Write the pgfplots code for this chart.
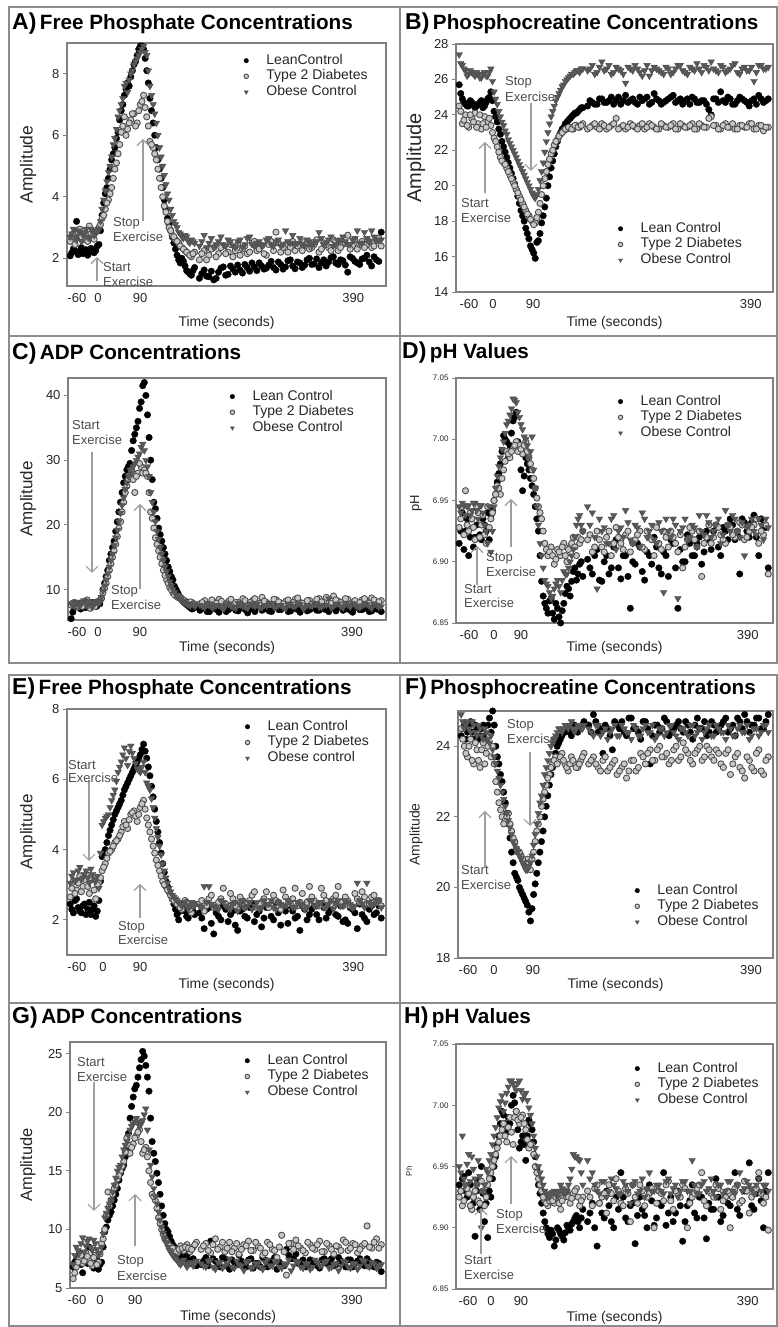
\documentclass[border=0pt]{standalone}
\usepackage{pgfplots}
\pgfplotsset{compat=1.18}
\usepackage{pgfplotstable}
\usetikzlibrary{arrows.meta}
\usepackage{fontspec}
\setmainfont{Liberation Sans}

\definecolor{axgray}{gray}{0.5}
\definecolor{framegray}{gray}{0.55}
\definecolor{txtcol}{gray}{0.15}
\definecolor{t2dfill}{gray}{0.78}
\definecolor{t2ddraw}{gray}{0.3}
\definecolor{obfill}{gray}{0.35}
\definecolor{arrgray}{gray}{0.62}
\definecolor{anncol}{gray}{0.3}

\pgfplotstableread{
u L T O
1 2.08 2.55 2.70
2 2.31 2.80 2.95
3 3.20 2.65 2.60
4 2.22 2.95 2.85
5 2.15 2.60 2.75
6 2.28 2.75 2.95
7 2.19 3.05 2.65
8 2.30 2.70 2.90
9 2.25 2.85 2.80
10 2.45 3.00 2.95
11 3.4 3.3 3.6
12 4.1 3.6 4.2
13 4.6 3.9 4.8
14 5.2 4.3 5.3
15 5.6 4.9 5.9
16 6.1 5.4 6.6
17 6.8 6.1 7.0
18 7.3 6.6 7.6
19 7.7 6.2 7.4
20 7.9 6.5 8.0
21 8.3 6.7 8.3
22 8.6 6.4 8.5
23 8.9 7.0 8.7
24 8.8 7.3 8.9
25 8.1 6.6 8.6
26 7.2 5.8 7.6
27 6.4 5.6 7.0
28 5.6 5.2 6.4
29 4.9 4.6 5.6
30 4.3 4.0 5.0
31 3.6 3.5 4.4
32 3.1 3.0 3.9
33 2.7 2.75 3.4
34 2.3 2.6 3.1
35 1.95 2.5 2.85
36 2.0 2.35 2.7
37 1.75 2.25 2.75
38 1.55 2.15 2.55
39 1.45 2.05 2.6
40 1.7 2.2 2.5
41.5 1.35 1.95 2.40
43 1.62 2.25 2.75
44.5 1.40 2.10 2.50
46 1.30 2.35 2.35
47.5 1.55 2.15 2.55
49 1.72 2.40 2.45
50.5 1.48 2.20 2.60
52 1.65 2.05 2.40
53.5 1.78 2.45 2.55
55 1.52 2.30 2.35
56.5 1.70 2.15 2.65
58 1.85 2.50 2.45
59.5 1.60 2.25 2.50
61 1.75 2.40 2.40
62.5 1.68 2.10 2.60
64 1.90 2.55 2.45
65.5 1.62 2.85 2.55
67 1.80 2.20 2.40
68.5 1.72 2.45 2.90
70 1.95 2.35 2.50
71.5 1.66 2.25 2.45
73 1.85 2.40 2.65
74.5 1.78 2.55 2.40
76 2.00 2.30 2.55
77.5 1.82 2.45 2.50
79 1.70 2.20 2.85
80.5 1.95 2.50 2.45
82 1.88 2.35 2.60
83.5 2.05 2.60 2.40
85 1.80 2.25 2.55
86.5 1.92 2.45 2.70
88 1.55 2.75 2.45
89.5 2.00 2.40 2.60
91 1.85 2.30 2.90
92.5 1.98 2.55 2.50
94 2.10 2.45 2.65
95.5 1.75 2.35 2.90
97 1.95 2.60 2.55
98.5 2.85 2.40 2.60
1.5 2.18 2.70 2.80
2.5 2.25 2.45 2.65
3.5 2.12 2.85 2.90
4.5 2.35 2.70 2.55
5.5 2.20 2.90 2.85
6.5 2.10 2.55 2.70
7.5 2.32 2.80 2.95
8.5 2.18 2.62 2.75
9.5 2.40 2.90 2.88
10.5 2.90 3.10 3.20
11.5 3.8 3.4 3.9
12.5 4.3 3.8 4.5
13.5 4.9 4.1 5.0
14.5 5.4 4.6 5.7
15.5 5.9 5.1 6.2
16.5 6.5 5.7 6.8
17.5 7.0 6.3 7.2
18.5 7.5 6.0 7.7
19.5 7.6 6.4 7.8
20.5 8.1 6.7 8.1
21.5 8.4 6.3 8.4
22.5 8.8 6.8 8.6
23.5 8.9 7.1 8.8
24.5 8.5 6.9 8.7
25.5 7.7 6.3 8.1
26.5 6.8 5.7 7.3
27.5 6.0 5.4 6.7
28.5 5.2 4.9 6.0
29.5 4.6 4.3 5.3
30.5 3.9 3.7 4.7
31.5 3.3 3.2 4.1
32.5 2.9 2.9 3.6
33.5 2.5 2.7 3.2
34.5 2.1 2.55 3.0
35.5 1.85 2.4 2.8
36.5 1.9 2.3 2.65
37.5 1.6 2.2 2.7
38.5 1.5 2.1 2.5
39.5 1.6 2.15 2.55
42.25 1.50 2.15 2.55
43.75 1.42 1.95 2.35
45.25 1.58 2.30 2.65
46.75 1.35 2.05 2.45
48.25 1.68 2.35 2.70
49.75 1.45 2.15 2.40
51.25 1.75 2.45 2.55
52.75 1.55 2.25 2.35
54.25 1.62 2.10 2.60
55.75 1.80 2.40 2.45
57.25 1.58 2.20 2.70
58.75 1.72 2.55 2.40
60.25 1.85 2.30 2.55
61.75 1.65 2.15 2.45
63.25 1.78 2.45 2.65
64.75 1.70 2.25 2.40
66.25 1.88 2.50 2.60
67.75 1.65 2.35 2.45
69.25 1.92 2.20 2.55
70.75 1.75 2.55 2.75
72.25 1.88 2.40 2.50
73.75 1.70 2.25 2.45
75.25 1.95 2.50 2.60
76.75 1.80 2.35 2.40
78.25 1.98 2.60 2.55
79.75 1.85 2.30 2.65
81.25 1.75 2.45 2.50
82.75 2.02 2.25 2.70
84.25 1.85 2.55 2.45
85.75 1.95 2.35 2.60
87.25 1.78 2.50 2.55
88.75 2.05 2.30 2.45
90.25 1.90 2.60 2.65
91.75 1.80 2.45 2.50
93.25 2.00 2.35 2.85
94.75 1.88 2.55 2.55
96.25 2.05 2.40 2.70
97.75 1.90 2.65 2.60
}\tA

\pgfplotstableread{
u L T O
1 25.7 24.5 27.4
2 24.9 23.5 26.8
3 24.6 24.0 26.5
4 24.5 23.3 26.3
5 24.7 23.8 26.4
6 24.4 24.1 26.2
7 24.6 23.5 26.3
8 24.8 23.2 26.1
9 24.5 23.9 26.4
10 24.9 23.6 26.2
11 25.3 23.4 26.6
12 24.2 22.7 25.3
13 23.6 22.2 24.6
14 22.9 21.6 23.9
15 22.2 21.3 23.4
16 21.6 21.0 22.9
17 21.0 20.6 22.4
18 20.4 20.2 22.0
19 19.8 19.8 21.6
20 19.0 19.4 21.2
21 18.3 19.0 20.8
22 17.6 18.6 20.4
23 17.0 18.3 20.0
24 16.4 18.0 19.6
25 15.9 17.9 19.3
26 16.9 18.5 19.8
27 17.9 19.5 20.8
28 18.8 20.4 21.9
29 20.0 21.2 23.0
30 21.0 21.8 23.9
31 21.8 22.3 24.5
32 22.5 22.6 25.0
33 23.0 22.9 25.4
34 23.3 23.1 25.7
35 23.6 23.2 26.0
36 23.8 23.3 26.2
37 24.0 23.2 26.3
38 24.1 23.4 26.5
39 24.3 23.3 26.4
40 24.4 23.5 26.6
41.5 24.5 23.2 26.5
43 24.7 23.4 26.8
44.5 24.6 23.3 26.4
46 24.9 23.5 27.0
47.5 24.7 23.2 26.6
49 25.0 23.4 26.3
50.5 24.8 23.8 26.7
52 24.6 23.3 26.5
53.5 25.1 23.2 25.8
55 24.8 23.5 26.6
56.5 24.7 23.3 26.8
58 25.0 23.4 26.4
59.5 24.9 23.2 26.5
61 24.6 23.5 26.2
62.5 25.2 23.3 26.7
64 24.8 23.2 26.5
65.5 24.7 23.4 26.3
67 24.9 23.3 26.6
68.5 25.1 23.5 26.4
70 24.8 23.2 26.8
71.5 24.6 23.4 26.5
73 24.9 23.3 26.3
74.5 25.0 23.5 26.6
76 24.7 23.2 26.9
77.5 24.8 23.4 26.4
79 24.6 23.3 26.7
80.5 24.0 23.9 27.0
82 24.9 23.4 26.5
83.5 25.3 23.2 26.8
85 24.7 23.5 26.4
86.5 24.9 23.3 26.6
88 24.6 23.2 26.9
89.5 25.0 23.4 26.3
91 24.8 23.3 26.7
92.5 24.5 23.5 26.5
94 24.9 23.2 25.9
95.5 25.1 23.4 26.8
97 24.7 23.1 26.6
98.5 24.9 23.3 26.7
1.5 25.2 24.2 26.9
2.5 24.7 23.7 26.6
3.5 24.5 23.4 26.2
4.5 24.8 24.0 26.5
5.5 24.6 23.6 26.3
6.5 24.5 23.3 26.4
7.5 24.7 24.0 26.1
8.5 24.4 23.5 26.3
9.5 24.7 23.3 26.2
10.5 25.0 23.8 26.4
11.5 24.8 23.0 25.9
12.5 23.9 22.5 24.9
13.5 23.2 21.9 24.2
14.5 22.5 21.4 23.6
15.5 21.9 21.2 23.1
16.5 21.3 20.8 22.6
17.5 20.7 20.4 22.2
18.5 20.1 20.0 21.8
19.5 19.4 19.6 21.4
20.5 18.6 19.2 21.0
21.5 18.0 18.8 20.6
22.5 17.3 18.4 20.2
23.5 16.6 18.1 19.8
24.5 16.2 17.8 19.4
25.5 16.8 18.2 19.5
26.5 17.3 19.0 20.3
27.5 18.3 20.0 21.3
28.5 19.3 20.8 22.5
29.5 20.5 21.5 23.5
30.5 21.4 22.0 24.2
31.5 22.2 22.5 24.8
32.5 22.8 22.8 25.2
33.5 23.2 23.0 25.6
34.5 23.5 23.2 25.9
35.5 23.7 23.3 26.1
36.5 23.9 23.2 26.3
37.5 24.1 23.4 26.4
38.5 24.2 23.3 26.5
39.5 24.4 23.4 26.6
42.25 24.8 23.3 26.6
43.75 24.6 23.5 26.3
45.25 24.9 23.2 26.7
46.75 24.7 23.4 26.5
48.25 24.8 23.3 26.8
49.75 24.6 23.5 26.4
51.25 25.0 23.2 26.6
52.75 24.8 23.4 26.3
54.25 24.7 23.3 26.7
55.75 24.9 23.4 26.5
57.25 24.6 23.2 26.6
58.75 24.8 23.5 26.2
60.25 25.0 23.3 26.8
61.75 24.7 23.4 26.5
63.25 24.9 23.2 26.6
64.75 24.6 23.5 26.4
66.25 24.8 23.3 26.7
67.75 25.0 23.4 26.3
69.25 24.7 23.2 26.6
70.75 24.9 23.5 26.8
72.25 24.8 23.3 26.4
73.75 24.6 23.4 26.7
75.25 24.9 23.2 26.5
76.75 24.7 23.5 26.6
78.25 24.8 23.3 26.8
79.75 24.3 23.8 26.5
81.25 24.9 23.4 26.6
82.75 24.7 23.2 26.4
84.25 24.8 23.4 26.7
85.75 25.0 23.3 26.5
87.25 24.6 23.5 26.8
88.75 24.8 23.2 26.4
90.25 24.9 23.4 26.6
91.75 24.7 23.3 26.5
93.25 24.8 23.5 26.7
94.75 24.6 23.2 26.4
96.25 24.9 23.4 26.8
97.75 24.8 23.3 26.6
}\tB

\pgfplotstableread{
u L T O
1 5.5 7.6 7.9
2 7.2 8.0 7.4
3 7.8 7.3 8.1
4 7.0 7.9 7.7
5 7.6 7.5 8.3
6 8.2 8.4 7.5
7 7.3 7.1 8.0
8 7.9 7.7 7.6
9 7.4 8.1 8.2
10 7.8 8.3 8.0
11 10.0 9.5 9.8
12 12.0 11.0 11.5
13 14.5 13.0 13.5
14 16.5 15.0 15.5
15 19.0 17.0 18.0
16 22.0 19.5 20.5
17 25.0 22.0 23.0
18 27.5 25.0 25.5
19 29.0 27.0 27.5
20 31.5 28.5 28.0
21 34.0 25.0 29.5
22 36.0 28.0 30.5
23 39.0 29.0 32.0
24 42.0 28.5 31.5
25 37.0 27.5 29.0
26 30.0 22.0 25.0
27 23.5 19.5 22.0
28 21.0 17.0 19.0
29 18.5 15.0 16.5
30 16.5 13.0 14.5
31 14.5 11.5 12.8
32 12.8 10.3 11.2
33 11.5 9.5 10.0
34 10.0 9.0 9.2
35 9.0 8.9 8.6
36 8.3 8.5 8.2
37 7.8 8.2 7.9
38 7.4 7.9 7.6
39 7.0 8.0 7.8
40 7.3 7.7 7.4
41.5 6.8 7.8 7.6
43 7.4 8.3 7.2
44.5 6.6 7.6 7.8
46 7.1 8.1 7.3
47.5 6.5 8.5 7.5
49 7.3 7.7 7.0
50.5 6.9 8.2 7.7
52 7.5 7.5 7.3
53.5 6.7 8.0 7.9
55 7.2 8.6 7.4
56.5 6.4 7.8 7.1
58 7.0 8.3 7.6
59.5 7.4 7.6 7.8
61 6.8 8.8 7.2
62.5 7.1 8.0 7.5
64 6.6 7.7 7.9
65.5 7.3 8.4 7.3
67 6.9 7.9 7.6
68.5 7.6 8.2 7.1
70 6.7 7.6 7.8
71.5 7.1 8.5 7.4
73 6.5 8.0 7.7
74.5 7.2 7.8 7.2
76 6.9 8.3 7.5
77.5 7.4 7.7 7.9
79 6.8 8.6 7.3
80.5 7.0 8.1 7.6
82 6.6 7.9 8.6
83.5 7.3 9.0 7.4
85 7.5 8.2 7.8
86.5 6.8 7.8 7.2
88 7.1 8.5 7.6
89.5 6.5 8.0 7.9
91 7.2 7.7 7.3
92.5 6.9 8.4 7.5
94 7.4 8.1 7.7
95.5 6.7 8.7 7.1
97 7.0 7.9 7.6
98.5 6.6 8.3 7.4
1.5 6.5 7.9 7.6
2.5 7.6 7.5 7.9
3.5 7.3 7.8 7.5
4.5 7.9 7.4 8.0
5.5 7.2 8.1 7.8
6.5 7.7 7.6 8.2
7.5 8.0 7.9 7.4
8.5 7.5 7.4 7.9
9.5 7.9 8.0 8.1
10.5 8.6 8.7 8.8
11.5 11.0 10.2 10.6
12.5 13.0 12.0 12.5
13.5 15.5 14.0 14.5
14.5 17.5 16.0 16.8
15.5 20.5 18.2 19.2
16.5 23.5 20.5 21.8
17.5 26.5 23.5 24.2
18.5 28.5 26.0 26.5
19.5 29.5 27.5 28.5
20.5 33.0 27.0 29.0
21.5 35.0 27.5 30.0
22.5 38.0 29.5 31.0
23.5 41.5 28.0 32.5
24.5 40.0 28.0 30.0
25.5 33.5 25.0 27.5
26.5 27.0 21.0 23.5
27.5 22.5 18.0 20.5
28.5 19.5 16.0 17.8
29.5 17.5 14.0 15.5
30.5 15.5 12.2 13.5
31.5 13.5 11.0 12.0
32.5 12.0 10.0 10.5
33.5 10.5 9.2 9.6
34.5 9.5 8.8 8.9
35.5 8.7 8.6 8.4
36.5 8.0 8.3 8.0
37.5 7.6 8.0 7.7
38.5 7.2 8.1 7.5
39.5 7.1 7.8 7.6
42.25 7.1 8.0 7.4
43.75 6.6 7.7 7.8
45.25 7.3 8.4 7.2
46.75 6.9 7.9 7.6
48.25 7.4 8.2 7.3
49.75 6.6 7.8 7.8
51.25 7.2 8.5 7.4
52.75 6.8 8.0 7.1
54.25 7.4 7.6 7.7
55.75 6.9 8.3 7.3
57.25 7.1 8.0 7.8
58.75 6.6 8.6 7.4
60.25 7.3 7.9 7.2
61.75 7.0 8.2 7.6
63.25 6.7 7.7 7.9
64.75 7.4 8.5 7.3
66.25 6.9 8.1 7.6
67.75 7.2 7.8 7.2
69.25 6.6 8.4 7.7
70.75 7.3 8.0 7.4
72.25 6.9 8.7 7.8
73.75 7.4 7.9 7.2
75.25 6.7 8.3 7.6
76.75 7.1 7.8 7.4
78.25 6.8 8.5 7.8
79.75 7.3 8.1 7.3
81.25 6.9 8.8 7.6
82.75 7.2 7.9 7.2
84.25 6.7 8.4 7.7
85.75 7.3 8.0 7.4
87.25 7.0 8.6 7.8
88.75 6.8 7.8 7.3
90.25 7.4 8.3 7.6
91.75 6.9 8.0 7.2
93.25 7.1 8.6 7.7
94.75 6.6 7.9 7.4
96.25 7.3 8.4 7.8
97.75 6.9 8.1 7.3
}\tC

\pgfplotstableread{
u L T O
1 6.915 6.928 6.945
2 6.940 6.945 6.948
3 6.925 6.958 6.938
4 6.905 6.925 6.946
5 6.935 6.935 6.942
6 6.920 6.918 6.948
7 6.945 6.940 6.935
8 6.918 6.930 6.946
9 6.930 6.922 6.930
10 6.940 6.945 6.915
11 6.938 6.935 6.908
12 6.950 6.950 6.945
13 6.965 6.962 6.970
14 6.980 6.955 6.985
15 7.003 6.975 6.998
16 6.998 6.990 7.012
17 6.995 6.985 7.020
18 7.015 6.992 7.033
19 7.022 6.998 7.030
20 6.990 6.995 7.018
21 6.958 6.988 7.008
22 6.985 6.998 7.000
23 6.975 6.985 6.985
24 6.962 6.975 7.002
25 6.945 6.960 6.960
26 6.925 6.945 6.930
27 6.884 6.935 6.905
28 6.866 6.915 6.885
29 6.858 6.905 6.880
30 6.870 6.912 6.870
31 6.853 6.898 6.878
32 6.862 6.910 6.885
33 6.850 6.905 6.875
34 6.866 6.915 6.892
35 6.880 6.900 6.890
36 6.872 6.912 6.900
37 6.892 6.920 6.910
38 6.885 6.905 6.930
39 6.898 6.915 6.938
40 6.888 6.925 6.925
41.5 6.902 6.918 6.945
43 6.890 6.908 6.940
44.5 6.910 6.925 6.878
46 6.884 6.912 6.925
47.5 6.905 6.920 6.915
49 6.895 6.905 6.935
50.5 6.918 6.928 6.910
52 6.886 6.915 6.928
53.5 6.905 6.922 6.942
55 6.862 6.908 6.918
56.5 6.898 6.918 6.930
58 6.912 6.925 6.912
59.5 6.885 6.910 6.935
61 6.905 6.920 6.925
62.5 6.920 6.905 6.918
64 6.895 6.915 6.932
65.5 6.908 6.925 6.875
67 6.888 6.912 6.925
68.5 6.915 6.920 6.935
70 6.862 6.908 6.870
71.5 6.900 6.895 6.928
73 6.922 6.918 6.918
74.5 6.905 6.925 6.930
76 6.915 6.912 6.912
77.5 6.898 6.888 6.925
79 6.925 6.920 6.938
80.5 6.910 6.915 6.920
82 6.930 6.930 6.930
83.5 6.905 6.922 6.915
85 6.925 6.915 6.942
86.5 6.935 6.928 6.925
88 6.918 6.920 6.935
89.5 6.890 6.932 6.920
91 6.932 6.918 6.905
92.5 6.920 6.925 6.930
94 6.938 6.930 6.925
95.5 6.905 6.915 6.935
97 6.930 6.922 6.918
98.5 6.895 6.890 6.928
1.5 6.925 6.935 6.940
2.5 6.910 6.922 6.946
3.5 6.935 6.930 6.945
4.5 6.920 6.940 6.938
5.5 6.912 6.928 6.948
6.5 6.930 6.945 6.942
7.5 6.922 6.920 6.946
8.5 6.935 6.938 6.940
9.5 6.925 6.915 6.925
10.5 6.918 6.928 6.945
11.5 6.942 6.940 6.925
12.5 6.955 6.955 6.960
13.5 6.972 6.960 6.978
14.5 6.990 6.968 6.992
15.5 7.000 6.982 7.005
16.5 6.985 6.988 7.015
17.5 7.005 6.990 7.025
18.5 7.018 6.995 7.032
19.5 6.998 6.990 7.022
20.5 6.975 6.992 7.012
21.5 6.970 6.995 7.002
22.5 6.980 6.990 6.995
23.5 6.968 6.980 6.990
24.5 6.955 6.968 6.975
25.5 6.935 6.952 6.945
26.5 6.905 6.940 6.915
27.5 6.872 6.925 6.895
28.5 6.862 6.910 6.882
29.5 6.868 6.908 6.875
30.5 6.858 6.905 6.872
31.5 6.866 6.902 6.882
32.5 6.855 6.908 6.880
33.5 6.860 6.912 6.885
34.5 6.874 6.905 6.890
35.5 6.878 6.910 6.895
36.5 6.884 6.915 6.905
37.5 6.895 6.912 6.920
38.5 6.890 6.920 6.935
39.5 6.900 6.918 6.930
42.25 6.895 6.922 6.930
43.75 6.905 6.912 6.920
45.25 6.885 6.918 6.935
46.75 6.900 6.908 6.928
48.25 6.890 6.925 6.915
49.75 6.912 6.915 6.938
51.25 6.895 6.920 6.925
52.75 6.905 6.910 6.920
54.25 6.888 6.925 6.932
55.75 6.900 6.915 6.915
57.25 6.915 6.922 6.928
58.75 6.892 6.912 6.940
60.25 6.908 6.925 6.920
61.75 6.898 6.918 6.930
63.25 6.912 6.928 6.915
64.75 6.890 6.910 6.925
66.25 6.905 6.920 6.935
67.75 6.918 6.925 6.920
69.25 6.895 6.915 6.930
70.75 6.910 6.922 6.925
72.25 6.900 6.912 6.935
73.75 6.915 6.928 6.920
75.25 6.905 6.918 6.928
76.75 6.920 6.925 6.938
78.25 6.908 6.915 6.922
79.75 6.918 6.930 6.932
81.25 6.925 6.920 6.925
82.75 6.912 6.928 6.935
84.25 6.928 6.918 6.922
85.75 6.918 6.930 6.930
87.25 6.930 6.922 6.938
88.75 6.922 6.925 6.925
90.25 6.935 6.930 6.932
91.75 6.925 6.920 6.928
93.25 6.932 6.928 6.935
94.75 6.920 6.935 6.922
96.25 6.935 6.925 6.930
97.75 6.928 6.930 6.935
}\tD

\pgfplotstableread{
u L T O
1 2.45 2.65 3.05
2 2.20 3.10 3.35
3 2.60 2.85 3.15
4 2.25 3.25 3.50
5 2.40 2.95 3.20
6 2.15 3.30 3.40
7 2.50 2.75 3.05
8 2.30 3.15 3.30
9 2.10 2.60 3.10
10 2.55 3.05 2.90
11 3.8 3.4 4.7
12 4.0 3.6 4.9
13 4.4 3.9 5.0
14 4.7 4.0 5.4
15 5.0 4.2 5.7
16 5.2 4.3 6.2
17 5.4 4.5 6.5
18 5.7 4.8 6.9
19 5.9 4.6 6.4
20 6.1 5.0 6.95
21 6.3 5.1 6.6
22 6.5 4.8 6.3
23 6.7 5.2 6.2
24 7.0 5.4 6.5
25 6.6 4.9 5.9
26 6.1 4.5 5.7
27 5.5 4.1 5.2
28 4.8 3.7 4.6
29 4.2 3.4 4.1
30 3.6 3.1 3.6
31 3.1 2.95 3.2
32 2.8 2.8 2.9
33 2.6 2.6 2.7
34 2.3 2.5 2.6
35 2.0 2.4 2.5
36 2.45 2.3 2.4
37 2.25 2.55 2.5
38 2.05 2.4 2.3
39 2.35 2.2 2.5
40 2.15 2.45 2.4
41.5 2.20 2.45 2.40
43 1.75 2.25 2.95
44.5 2.35 2.60 2.95
46 1.60 2.35 2.40
47.5 2.10 2.50 2.30
49 2.40 2.90 2.50
50.5 1.95 2.40 2.35
52 2.25 2.60 2.45
53.5 1.70 2.30 2.25
55 2.30 2.55 2.55
56.5 2.05 2.45 2.40
58 2.45 2.70 2.30
59.5 2.15 2.35 2.50
61 1.80 2.50 2.35
62.5 2.35 2.80 2.45
64 2.10 2.40 2.55
65.5 2.50 2.55 2.30
67 1.85 2.30 2.45
68.5 2.25 2.65 2.40
70 2.40 2.45 2.50
71.5 2.05 2.90 2.35
73 1.70 2.50 2.45
74.5 2.30 2.35 2.30
76 2.15 2.95 2.55
77.5 2.45 2.55 2.40
79 2.00 2.40 2.50
80.5 2.35 2.70 2.35
82 2.20 2.45 2.45
83.5 2.50 2.60 2.30
85 2.10 2.95 2.55
86.5 1.95 2.40 2.40
88 1.90 2.55 2.50
89.5 2.30 2.35 2.35
91 1.75 2.60 3.05
92.5 2.15 2.80 2.45
94 1.95 2.45 3.05
95.5 2.40 2.65 2.40
97 2.20 2.50 2.55
98.5 2.05 2.40 2.35
1.5 2.30 2.90 3.25
2.5 2.55 2.75 3.10
3.5 2.35 3.05 3.40
4.5 2.20 2.80 3.15
5.5 2.45 3.15 3.30
6.5 2.30 2.95 3.20
7.5 2.15 3.20 3.45
8.5 2.40 2.85 3.15
9.5 2.25 3.00 3.25
10.5 3.10 3.20 3.90
11.5 3.90 3.50 4.80
12.5 4.20 3.75 4.95
13.5 4.55 3.95 5.20
14.5 4.85 4.10 5.55
15.5 5.10 4.25 5.95
16.5 5.30 4.40 6.35
17.5 5.55 4.65 6.70
18.5 5.80 4.70 6.60
19.5 6.00 4.85 6.80
20.5 6.20 5.05 6.75
21.5 6.40 4.95 6.45
22.5 6.60 5.00 6.25
23.5 6.85 5.30 6.35
24.5 6.80 5.15 6.20
25.5 6.35 4.70 5.80
26.5 5.80 4.30 5.45
27.5 5.15 3.90 4.90
28.5 4.50 3.55 4.35
29.5 3.90 3.25 3.85
30.5 3.35 3.00 3.40
31.5 2.95 2.85 3.05
32.5 2.70 2.70 2.80
33.5 2.45 2.55 2.65
34.5 2.15 2.45 2.55
35.5 2.25 2.35 2.45
36.5 2.35 2.45 2.45
37.5 2.10 2.50 2.40
38.5 2.20 2.30 2.40
39.5 2.25 2.40 2.45
42.25 2.05 2.55 2.35
43.75 2.30 2.40 2.50
45.25 1.90 2.70 2.45
46.75 2.20 2.35 2.35
48.25 2.00 2.60 2.55
49.75 2.30 2.45 2.40
51.25 2.15 2.75 2.30
52.75 1.85 2.40 2.50
54.25 2.25 2.65 2.45
55.75 2.10 2.35 2.35
57.25 2.35 2.55 2.50
58.75 1.95 2.80 2.40
60.25 2.25 2.45 2.30
61.75 2.05 2.60 2.55
63.25 2.40 2.35 2.45
64.75 2.00 2.70 2.35
66.25 2.20 2.50 2.50
67.75 2.35 2.85 2.40
69.25 1.90 2.45 2.55
70.75 2.25 2.60 2.35
72.25 2.10 2.40 2.50
73.75 2.40 2.75 2.45
75.25 2.00 2.50 2.35
76.75 2.30 2.65 2.55
78.25 2.15 2.40 2.40
79.75 2.45 2.90 2.50
81.25 2.05 2.55 2.35
82.75 2.30 2.45 2.55
84.25 2.15 2.70 2.45
85.75 2.40 2.50 2.40
87.25 2.00 2.65 2.55
88.75 2.35 2.40 2.45
90.25 2.20 2.75 2.40
91.75 2.45 2.50 2.55
93.25 2.05 2.65 2.35
94.75 2.30 2.45 2.50
96.25 2.15 2.70 2.45
97.75 2.40 2.55 2.55
}\tE

\pgfplotstableread{
u L T O
1 24.3 24.5 24.9
2 24.6 24.0 24.5
3 24.4 23.7 24.7
4 24.7 24.2 24.4
5 24.2 23.5 24.6
6 24.5 23.9 24.3
7 24.3 23.4 24.5
8 24.6 24.1 24.2
9 24.2 23.8 24.4
10 24.8 24.3 24.1
11 25.0 24.0 23.9
12 24.0 23.0 23.5
13 23.5 22.4 23.1
14 23.0 22.0 22.7
15 22.4 21.9 22.3
16 21.8 22.1 21.9
17 21.0 21.6 21.5
18 20.4 21.3 21.2
19 20.2 21.0 21.0
20 19.9 20.9 20.8
21 19.7 20.7 20.6
22 19.5 20.8 20.5
23 19.05 20.5 20.7
24 19.8 21.0 21.2
25 20.4 21.6 21.8
26 21.0 22.0 22.4
27 21.6 22.5 22.9
28 22.3 22.9 23.4
29 22.9 23.2 23.8
30 23.4 23.5 24.1
31 23.8 23.7 24.3
32 24.1 23.6 24.5
33 24.3 23.8 24.4
34 24.4 23.5 24.6
35 24.5 23.3 24.5
36 24.3 23.7 24.7
37 24.6 23.5 24.4
38 24.4 23.4 24.6
39 24.5 23.6 24.5
40 24.7 23.8 24.6
41.5 24.6 23.5 24.5
43 24.9 23.7 24.3
44.5 24.4 23.4 24.6
46 23.8 23.6 24.4
47.5 24.5 23.3 24.2
49 23.9 23.5 24.5
50.5 24.6 23.2 24.3
52 24.7 23.4 24.6
53.5 24.3 23.1 24.4
55 24.8 23.6 24.2
56.5 24.5 23.3 24.5
58 24.2 23.8 24.3
59.5 24.7 23.5 24.6
61 23.5 23.9 24.4
62.5 24.6 23.6 24.2
64 24.4 24.0 24.5
65.5 24.8 23.7 24.3
67 24.3 23.5 24.6
68.5 24.5 23.9 24.4
70 24.7 23.6 24.2
71.5 24.4 24.1 24.5
73 24.6 23.8 24.3
74.5 24.2 23.5 24.6
76 24.8 23.9 24.4
77.5 24.5 23.6 24.2
79 24.3 24.0 24.5
80.5 24.7 23.7 24.3
82 24.4 23.9 24.6
83.5 24.6 23.5 24.4
85 24.8 23.8 24.2
86.5 24.5 23.2 24.5
88 24.3 23.7 24.3
89.5 24.7 23.4 24.6
91 24.9 23.1 24.4
92.5 24.4 23.6 24.2
94 24.6 23.3 24.5
95.5 24.8 23.9 24.3
97 24.5 23.2 24.6
98.5 24.9 23.7 24.4
1.5 24.5 24.2 24.7
2.5 24.2 23.8 24.6
3.5 24.6 24.0 24.5
4.5 24.4 23.6 24.7
5.5 24.6 24.1 24.4
6.5 24.2 23.6 24.6
7.5 24.5 23.9 24.3
8.5 24.3 23.5 24.5
9.5 24.6 24.0 24.2
10.5 24.4 23.7 24.3
11.5 24.6 23.5 23.7
12.5 23.7 22.7 23.3
13.5 23.2 22.2 22.9
14.5 22.7 21.8 22.5
15.5 22.1 22.0 22.1
16.5 21.4 21.8 21.7
17.5 20.7 21.4 21.3
18.5 20.3 21.1 21.1
19.5 20.0 21.0 20.9
20.5 19.8 20.8 20.7
21.5 19.6 20.6 20.5
22.5 19.3 20.7 20.6
23.5 19.4 20.8 20.9
24.5 20.1 21.3 21.5
25.5 20.7 21.8 22.1
26.5 21.3 22.3 22.6
27.5 22.0 22.7 23.2
28.5 22.6 23.1 23.6
29.5 23.2 23.4 24.0
30.5 23.6 23.6 24.2
31.5 24.0 23.5 24.4
32.5 24.2 23.7 24.5
33.5 24.4 23.6 24.5
34.5 24.5 23.4 24.6
35.5 24.4 23.5 24.6
36.5 24.5 23.6 24.5
37.5 24.5 23.4 24.5
38.5 24.5 23.5 24.6
39.5 24.6 23.7 24.5
42.25 24.4 23.6 24.4
43.75 24.7 23.5 24.6
45.25 24.5 23.3 24.3
46.75 24.6 23.7 24.5
48.25 24.3 23.4 24.4
49.75 24.7 23.6 24.6
51.25 24.5 23.3 24.3
52.75 24.4 23.5 24.5
54.25 24.8 23.3 24.4
55.75 24.5 23.6 24.6
57.25 24.4 23.4 24.3
58.75 24.7 23.7 24.5
60.25 24.5 23.8 24.4
61.75 24.3 23.6 24.6
63.25 24.6 23.9 24.3
64.75 24.5 23.7 24.5
66.25 24.7 23.8 24.4
67.75 24.4 23.6 24.6
69.25 24.6 24.0 24.3
70.75 24.5 23.7 24.5
72.25 24.7 23.9 24.4
73.75 24.4 23.6 24.6
75.25 24.6 23.8 24.3
76.75 24.5 24.0 24.5
78.25 24.7 23.7 24.4
79.75 24.4 23.9 24.6
81.25 24.6 23.6 24.3
82.75 24.5 23.8 24.5
84.25 24.7 23.4 24.4
85.75 24.4 23.9 24.6
87.25 24.6 23.5 24.3
88.75 24.8 23.8 24.5
90.25 24.5 23.3 24.4
91.75 24.7 23.7 24.6
93.25 24.6 23.4 24.3
94.75 24.8 23.8 24.5
96.25 24.5 23.3 24.4
97.75 24.7 23.6 24.6
}\tF

\pgfplotstableread{
u L T O
1 6.8 5.8 7.0
2 7.4 6.8 8.5
3 8.0 7.5 8.0
4 6.3 7.1 9.3
5 7.6 8.0 8.6
6 8.5 7.4 9.2
7 6.9 6.9 8.2
8 7.7 7.8 8.8
9 6.6 7.2 7.9
10 7.2 8.8 8.5
11 9.8 10.0 11.0
12 10.8 13.2 11.8
13 11.5 12.5 12.5
14 12.5 13.5 13.8
15 13.5 14.3 15.0
16 14.8 15.0 15.5
17 15.5 15.8 16.8
18 17.0 17.8 17.5
19 19.5 16.5 18.5
20 21.3 17.3 19.0
21 22.3 18.0 19.5
22 23.8 18.5 18.8
23 25.2 16.5 19.3
24 24.0 17.0 20.3
25 21.8 15.0 16.8
26 17.5 13.0 14.5
27 15.8 12.5 12.8
28 14.0 11.0 11.5
29 12.0 10.0 10.2
30 10.5 9.2 9.2
31 9.8 8.8 8.5
32 9.0 8.5 8.0
33 8.5 8.3 7.6
34 8.0 8.0 7.3
35 7.7 8.6 7.0
36 7.3 8.2 7.4
37 7.8 8.7 6.8
38 7.1 8.1 7.2
39 7.5 8.5 6.9
40 6.9 8.9 7.3
41.5 7.0 8.3 7.1
43 7.6 8.8 6.8
44.5 9.0 8.0 7.4
46 7.3 9.2 6.6
47.5 6.8 8.5 7.2
49 7.5 8.1 6.9
50.5 6.6 8.9 7.5
52 7.2 8.4 6.7
53.5 7.8 7.9 7.0
55 6.9 8.7 6.5
56.5 7.4 9.0 7.3
58 6.7 8.2 6.8
59.5 7.1 8.6 7.1
61 7.6 7.8 6.6
62.5 6.8 8.9 7.4
64 7.3 8.3 6.9
65.5 6.6 7.6 7.2
67 7.0 9.5 6.7
68.5 8.3 6.1 7.0
70 7.5 8.8 6.5
71.5 7.9 9.1 7.3
73 7.2 8.4 6.8
74.5 6.8 8.0 7.1
76 7.4 8.7 6.6
77.5 7.0 8.3 7.4
79 6.7 9.0 6.9
80.5 7.5 8.1 7.2
82 7.2 8.6 6.7
83.5 6.9 7.9 7.0
85 7.6 8.5 6.5
86.5 7.1 9.1 7.3
88 7.4 8.2 6.8
89.5 6.8 8.8 7.1
91 7.3 8.0 6.6
92.5 7.0 8.6 7.4
94 7.5 10.3 6.9
95.5 6.9 8.4 7.2
97 7.2 9.2 6.7
98.5 6.4 8.7 7.0
1.5 7.2 6.3 7.8
2.5 7.7 7.2 8.2
3.5 7.0 7.8 8.8
4.5 7.9 7.3 8.1
5.5 7.1 7.7 9.0
6.5 7.5 7.1 8.5
7.5 6.7 7.6 9.1
8.5 7.4 7.0 8.3
9.5 7.0 7.9 8.0
10.5 8.5 9.2 9.6
11.5 10.2 11.2 11.4
12.5 11.2 12.0 12.2
13.5 12.0 13.0 13.2
14.5 13.0 13.8 14.4
15.5 14.2 14.6 15.3
16.5 15.2 15.4 16.2
17.5 16.2 16.6 17.2
18.5 18.2 17.2 18.0
19.5 20.5 17.0 18.8
20.5 22.0 17.8 19.2
21.5 23.0 18.3 19.2
22.5 24.5 17.5 19.0
23.5 24.8 16.8 19.8
24.5 23.0 16.2 18.5
25.5 19.5 14.0 15.5
26.5 16.5 12.8 13.5
27.5 14.8 11.8 12.2
28.5 13.0 10.5 10.8
29.5 11.2 9.6 9.7
30.5 10.0 9.0 8.9
31.5 9.4 8.6 8.2
32.5 8.7 8.4 7.8
33.5 8.2 8.1 7.5
34.5 7.8 8.3 7.1
35.5 7.5 8.4 7.2
36.5 7.6 8.5 7.1
37.5 7.4 8.4 7.0
38.5 7.3 8.3 7.1
39.5 7.2 8.7 7.1
42.25 7.3 8.6 6.9
43.75 6.9 8.2 7.3
45.25 7.5 8.7 6.8
46.75 7.1 8.3 7.2
48.25 7.6 8.9 6.7
49.75 6.9 8.4 7.1
51.25 7.4 8.1 6.8
52.75 7.0 8.8 7.3
54.25 7.3 8.3 6.9
55.75 6.8 8.6 7.2
57.25 7.5 8.2 6.7
58.75 7.1 8.9 7.1
60.25 6.8 8.4 6.8
61.75 7.4 8.0 7.2
63.25 7.0 8.7 6.9
64.75 7.6 8.2 7.3
66.25 7.2 8.5 6.8
67.75 6.9 8.1 7.1
69.25 7.8 8.8 7.4
70.75 7.5 8.3 6.9
72.25 7.1 8.6 7.2
73.75 7.4 8.2 6.7
75.25 7.0 8.9 7.1
76.75 7.3 8.4 6.8
78.25 6.9 8.7 7.2
79.75 7.4 8.1 6.9
81.25 7.1 8.8 7.3
82.75 7.5 8.3 6.8
84.25 7.0 8.6 7.1
85.75 7.3 8.2 6.9
87.25 6.8 8.9 7.2
88.75 7.4 8.4 6.7
90.25 7.1 8.7 7.1
91.75 7.5 8.3 6.9
93.25 6.9 8.8 7.3
94.75 7.2 8.5 6.8
96.25 6.8 8.9 7.1
97.75 7.1 8.4 6.9
}\tG

\pgfplotstableread{
u L T O
1 6.935 6.925 6.950
2 6.940 6.918 6.975
3 6.930 6.935 6.935
4 6.945 6.928 6.960
5 6.915 6.915 6.958
6 6.893 6.930 6.940
7 6.938 6.922 6.955
8 6.950 6.938 6.900
9 6.905 6.918 6.935
10 6.892 6.935 6.945
11 6.925 6.945 6.960
12 6.950 6.955 6.975
13 6.968 6.965 6.990
14 6.985 6.975 7.003
15 6.992 6.985 6.995
16 6.978 6.970 7.010
17 6.985 6.990 7.020
18 7.008 6.968 7.018
19 6.995 6.995 7.012
20 6.965 6.985 7.020
21 6.975 6.992 7.005
22 6.955 6.980 7.010
23 6.988 6.965 6.998
24 6.980 6.968 6.985
25 6.958 6.950 6.965
26 6.935 6.940 6.950
27 6.920 6.930 6.940
28 6.905 6.922 6.930
29 6.895 6.918 6.925
30 6.898 6.925 6.928
31 6.885 6.920 6.930
32 6.900 6.928 6.925
33 6.895 6.915 6.935
34 6.890 6.925 6.928
35 6.902 6.930 6.930
36 6.898 6.920 6.940
37 6.905 6.928 6.960
38 6.910 6.932 6.958
39 6.900 6.918 6.955
40 6.915 6.925 6.935
41.5 6.905 6.930 6.955
43 6.920 6.918 6.945
44.5 6.885 6.935 6.930
46 6.912 6.925 6.938
47.5 6.930 6.912 6.925
49 6.905 6.928 6.940
50.5 6.925 6.940 6.932
52 6.945 6.920 6.928
53.5 6.908 6.932 6.935
55 6.918 6.905 6.920
56.5 6.887 6.925 6.938
58 6.925 6.935 6.930
59.5 6.910 6.918 6.925
61 6.935 6.928 6.945
62.5 6.902 6.900 6.930
64 6.920 6.930 6.935
65.5 6.945 6.922 6.928
67 6.912 6.938 6.940
68.5 6.905 6.915 6.932
70 6.930 6.928 6.925
71.5 6.889 6.935 6.938
73 6.918 6.900 6.930
74.5 6.935 6.925 6.955
76 6.908 6.932 6.928
77.5 6.925 6.945 6.935
79 6.891 6.918 6.930
80.5 6.915 6.928 6.940
82 6.940 6.935 6.925
83.5 6.905 6.915 6.935
85 6.925 6.925 6.930
86.5 6.918 6.900 6.938
88 6.945 6.932 6.928
89.5 6.910 6.920 6.945
91 6.930 6.938 6.932
92.5 6.953 6.912 6.935
94 6.915 6.928 6.928
95.5 6.940 6.945 6.940
97 6.900 6.920 6.935
98.5 6.945 6.898 6.930
1.5 6.930 6.930 6.945
2.5 6.942 6.922 6.940
3.5 6.925 6.932 6.952
4.5 6.935 6.918 6.938
5.5 6.920 6.925 6.948
6.5 6.930 6.935 6.935
7.5 6.915 6.920 6.942
8.5 6.928 6.930 6.930
9.5 6.920 6.925 6.948
10.5 6.930 6.940 6.955
11.5 6.940 6.950 6.968
12.5 6.958 6.960 6.982
13.5 6.975 6.970 6.998
14.5 6.995 6.980 7.008
15.5 6.985 6.975 7.002
16.5 6.990 6.982 7.015
17.5 7.000 6.978 7.020
18.5 7.002 6.990 7.015
19.5 6.980 6.988 7.018
20.5 6.970 6.990 7.012
21.5 6.968 6.985 7.008
22.5 6.975 6.972 7.004
23.5 6.985 6.968 6.992
24.5 6.970 6.960 6.975
25.5 6.948 6.945 6.958
26.5 6.928 6.935 6.945
27.5 6.912 6.925 6.935
28.5 6.900 6.920 6.928
29.5 6.892 6.922 6.926
30.5 6.895 6.922 6.929
31.5 6.890 6.925 6.928
32.5 6.898 6.920 6.930
33.5 6.893 6.922 6.932
34.5 6.896 6.928 6.929
35.5 6.900 6.925 6.935
36.5 6.903 6.924 6.948
37.5 6.908 6.930 6.958
38.5 6.905 6.925 6.956
39.5 6.908 6.922 6.945
42.25 6.912 6.925 6.940
43.75 6.900 6.932 6.935
45.25 6.920 6.920 6.928
46.75 6.908 6.928 6.938
48.25 6.918 6.935 6.930
49.75 6.900 6.922 6.935
51.25 6.915 6.930 6.928
52.75 6.925 6.918 6.938
54.25 6.905 6.928 6.930
55.75 6.920 6.935 6.935
57.25 6.910 6.920 6.928
58.75 6.915 6.930 6.940
60.25 6.900 6.925 6.932
61.75 6.922 6.932 6.930
63.25 6.908 6.920 6.935
64.75 6.918 6.928 6.930
66.25 6.902 6.935 6.938
67.75 6.925 6.922 6.928
69.25 6.912 6.930 6.935
70.75 6.918 6.925 6.930
72.25 6.905 6.932 6.938
73.75 6.922 6.920 6.930
75.25 6.912 6.928 6.935
76.75 6.925 6.935 6.928
78.25 6.908 6.922 6.938
79.75 6.920 6.930 6.932
81.25 6.915 6.925 6.930
82.75 6.925 6.932 6.935
84.25 6.910 6.922 6.928
85.75 6.920 6.930 6.938
87.25 6.925 6.925 6.930
88.75 6.915 6.935 6.935
90.25 6.922 6.922 6.930
91.75 6.930 6.930 6.938
93.25 6.918 6.925 6.932
94.75 6.928 6.932 6.935
96.25 6.922 6.928 6.930
97.75 6.930 6.925 6.935
}\tH

\pgfplotsset{
  legend image code/.code={\path (0pt,-4pt) (24pt,4pt); \draw[#1,mark size=2.3pt] plot coordinates {(5pt,0pt)};},
  panel/.style={
    anchor=south west, scale only axis, xmin=0, xmax=100,
    axis line style={draw=axgray, line width=1.2pt},
    tick align=outside, ytick pos=left, xtick pos=bottom,
    xtick style={draw=none}, ytick style={draw=axgray, line width=0.8pt},
    major tick length=4pt,
    xticklabels={-60,0,90,390},
    tick label style={font=\fontsize{13}{14}\selectfont, text=txtcol},
    /pgf/number format/assume math mode=true,
    xlabel={Time (seconds)},
    xlabel style={font=\fontsize{14}{15}\selectfont, text=txtcol, at={(axis description cs:0.5,0)}, anchor=center},
    ylabel={Amplitude},
    ylabel style={font=\fontsize{17}{18}\selectfont, text=txtcol, anchor=center},
    legend style={draw=none, fill=none, font=\fontsize{14}{15}\selectfont, anchor=north west, row sep=0.7pt, inner sep=0pt, nodes={inner sep=1pt, text height=10pt, text depth=3pt, text=txtcol}},
    legend cell align=left,
  },
  lean/.style={only marks, mark=*, mark size=3.3pt, mark options={fill=black, draw=black, line width=0.3pt}},
  t2d/.style={only marks, mark=*, mark size=3.1pt, mark options={fill=t2dfill, draw=t2ddraw, line width=0.9pt}},
  obese/.style={only marks, mark=triangle*, mark size=3.8pt, mark options={rotate=180, fill=obfill, draw=t2ddraw, line width=0.4pt}},
}

\tikzset{
  ann/.style={draw=arrgray, line width=1.1pt, -{Straight Barb[length=6pt,width=12pt]}},
  atxt/.style={anchor=west, inner sep=0pt, font=\fontsize{13}{14}\selectfont, text=anncol},
  ttl/.style={anchor=base west, inner sep=0pt, text=black, font=\bfseries},
}
\newcommand{\ttl}[2]{{\fontsize{23}{24}\selectfont #1}\hspace{3.5pt}{\fontsize{20.7}{24}\selectfont #2}}

\begin{document}
\begin{tikzpicture}
\useasboundingbox (0pt,0pt) rectangle (778pt,1327pt);

% A
\begin{axis}[panel, at={(67pt,1041pt)}, width=319pt, height=243pt,
  ymin=1.1, ymax=9, ytick={2,4,6,8}, xtick={3.1,9.7,22.9,89.7},
  ylabel style={font=\fontsize{17.5}{18}\selectfont, at={(axis description cs:-0.122,0.5)}},
  xlabel style={yshift=-37pt}, legend style={at={(0.545,0.959)}}]
\addplot[lean] table[x=u,y=L]{\tA};
\addplot[t2d] table[x=u,y=T]{\tA};
\addplot[obese] table[x=u,y=O]{\tA};
\legend{LeanControl,Type 2 Diabetes,Obese Control}
\end{axis}

% B
\begin{axis}[panel, at={(456pt,1035pt)}, width=317pt, height=248pt,
  ymin=14, ymax=28, ytick={14,16,...,28}, xtick={4.1,11.7,24.3,93},
  ylabel style={font=\fontsize{20}{21}\selectfont, at={(axis description cs:-0.126,0.54)}},
  xlabel style={yshift=-31pt}, legend style={at={(0.502,0.286)}}]
\addplot[lean] table[x=u,y=L]{\tB};
\addplot[t2d] table[x=u,y=T]{\tB};
\addplot[obese] table[x=u,y=O]{\tB};
\legend{Lean Control,Type 2 Diabetes,Obese Control}
\end{axis}

% C
\begin{axis}[panel, at={(68pt,707pt)}, width=318pt, height=242pt,
  ymin=5.3, ymax=42.7, ytick={10,20,30,40}, xtick={2.8,9.4,22.6,89.3},
  ylabel style={at={(axis description cs:-0.126,0.5)}},
  xlabel style={yshift=-28pt}, legend style={at={(0.5,0.955)}}]
\addplot[lean] table[x=u,y=L]{\tC};
\addplot[t2d] table[x=u,y=T]{\tC};
\addplot[obese] table[x=u,y=O]{\tC};
\legend{Lean Control,Type 2 Diabetes,Obese Control}
\end{axis}

% D
\begin{axis}[panel, at={(456pt,704pt)}, width=317pt, height=245pt,
  ymin=6.85, ymax=7.05, ytick={6.85,6.90,6.95,7.00,7.05}, yticklabels={6.85,6.90,6.95,7.00,7.05},
  yticklabel style={font=\fontsize{8}{9}\selectfont},
  xtick={4.1,12,20.5,92}, ylabel={pH},
  ylabel style={font=\fontsize{13}{14}\selectfont, at={(axis description cs:-0.126,0.49)}},
  xlabel style={yshift=-25pt}, legend style={at={(0.502,0.935)}}]
\addplot[lean] table[x=u,y=L]{\tD};
\addplot[t2d] table[x=u,y=T]{\tD};
\addplot[obese] table[x=u,y=O]{\tD};
\legend{Lean Control,Type 2 Diabetes,Obese Control}
\end{axis}

% E
\begin{axis}[panel, at={(67pt,372pt)}, width=319pt, height=246pt,
  ymin=1, ymax=8, ytick={2,4,6,8}, xtick={3.1,11.3,22.9,89.7},
  ylabel style={at={(axis description cs:-0.122,0.5)}},
  xlabel style={yshift=-30pt}, legend style={at={(0.549,0.959)}}]
\addplot[lean] table[x=u,y=L]{\tE};
\addplot[t2d] table[x=u,y=T]{\tE};
\addplot[obese] table[x=u,y=O]{\tE};
\legend{Lean Control,Type 2 Diabetes,Obese control}
\end{axis}

% F
\begin{axis}[panel, at={(458pt,369pt)}, width=315pt, height=247pt,
  ymin=18, ymax=25, ytick={18,20,22,24}, xtick={3.2,11.4,23.8,93},
  ylabel style={font=\fontsize{14}{15}\selectfont, at={(axis description cs:-0.133,0.5)}},
  xlabel style={yshift=-27pt}, legend style={at={(0.552,0.304)}}]
\addplot[lean] table[x=u,y=L]{\tF};
\addplot[t2d] table[x=u,y=T]{\tF};
\addplot[obese] table[x=u,y=O]{\tF};
\legend{Lean Control,Type 2 Diabetes,Obese Control}
\end{axis}

% G
\begin{axis}[panel, at={(70pt,39pt)}, width=316pt, height=246pt,
  ymin=5, ymax=26, ytick={5,10,15,20,25}, xtick={2.2,9.5,20.6,89.2},
  ylabel style={font=\fontsize{16.5}{17}\selectfont, at={(axis description cs:-0.133,0.5)}},
  xlabel style={yshift=-29pt}, legend style={at={(0.544,0.955)}}]
\addplot[lean] table[x=u,y=L]{\tG};
\addplot[t2d] table[x=u,y=T]{\tG};
\addplot[obese] table[x=u,y=O]{\tG};
\legend{Lean Control,Type 2 Diabetes,Obese Control}
\end{axis}

% H
\begin{axis}[panel, at={(456pt,38pt)}, width=317pt, height=245pt,
  ymin=6.85, ymax=7.05, ytick={6.85,6.90,6.95,7.00,7.05}, yticklabels={6.85,6.90,6.95,7.00,7.05},
  yticklabel style={font=\fontsize{8}{9}\selectfont},
  xtick={3.8,11,20.5,92}, ylabel={Ph},
  ylabel style={font=\fontsize{8}{9}\selectfont, at={(axis description cs:-0.148,0.48)}},
  xlabel style={yshift=-29pt}, legend style={at={(0.555,0.931)}}]
\addplot[lean] table[x=u,y=L]{\tH};
\addplot[t2d] table[x=u,y=T]{\tH};
\addplot[obese] table[x=u,y=O]{\tH};
\legend{Lean Control,Type 2 Diabetes,Obese Control}
\end{axis}

\begin{scope}[x=1pt,y=-1pt,shift={(0pt,1327pt)}]
\draw[framegray, line width=1.2pt] (9,7) rectangle (777,663);
\draw[framegray, line width=1.2pt] (400,7) -- (400,663) (9,336) -- (777,336);
\draw[framegray, line width=1.2pt] (9,675) rectangle (777,1326);
\draw[framegray, line width=1.2pt] (400,675) -- (400,1326) (9,1003) -- (777,1003);
\node[ttl] at (12,30) {\ttl{A)}{Free Phosphate Concentrations}};
\node[ttl] at (405,30) {\ttl{B)}{Phosphocreatine Concentrations}};
\node[ttl] at (12,360) {\ttl{C)}{ADP Concentrations}};
\node[ttl] at (402,359) {\ttl{D)}{pH Values}};
\node[ttl] at (12,695) {\ttl{E)}{Free Phosphate Concentrations}};
\node[ttl] at (405,695) {\ttl{F)}{Phosphocreatine Concentrations}};
\node[ttl] at (12,1024) {\ttl{G)}{ADP Concentrations}};
\node[ttl] at (404,1024) {\ttl{H)}{pH Values}};
\draw[ann] (97,281) -- (97,257);
\node[atxt] at (103,267) {Start};
\node[atxt] at (103,282) {Exercise};
\draw[ann] (143,221) -- (143,139);
\node[atxt] at (113,223) {Stop};
\node[atxt] at (113,237) {Exercise};
\draw[ann] (531,103) -- (531,171);
\node[atxt] at (505,82) {Stop};
\node[atxt] at (505,97) {Exercise};
\draw[ann] (485,193) -- (485,142);
\node[atxt] at (461,203) {Start};
\node[atxt] at (461,218) {Exercise};
\draw[ann] (92,452) -- (92,573);
\node[atxt] at (72,425) {Start};
\node[atxt] at (72,440) {Exercise};
\draw[ann] (140,589) -- (140,504);
\node[atxt] at (111,591) {Stop};
\node[atxt] at (111,605) {Exercise};
\draw[ann] (477,585) -- (477,546);
\node[atxt] at (464,589) {Start};
\node[atxt] at (464,603) {Exercise};
\draw[ann] (511,547) -- (511,499);
\node[atxt] at (486,558) {Stop};
\node[atxt] at (486,572) {Exercise};
\draw[ann] (89,780) -- (89,861);
\node[atxt] at (68,765) {Start};
\node[atxt] at (68,778) {Exercise};
\draw[ann] (140,918) -- (140,884);
\node[atxt] at (118,927) {Stop};
\node[atxt] at (118,940) {Exercise};
\draw[ann] (485,867) -- (485,811);
\node[atxt] at (461,870) {Start};
\node[atxt] at (461,885) {Exercise};
\draw[ann] (530,752) -- (530,826);
\node[atxt] at (507,725) {Stop};
\node[atxt] at (507,739) {Exercise};
\draw[ann] (94,1082) -- (94,1211);
\node[atxt] at (77,1062) {Start};
\node[atxt] at (77,1077) {Exercise};
\draw[ann] (135,1246) -- (135,1194);
\node[atxt] at (117,1261) {Stop};
\node[atxt] at (117,1276) {Exercise};
\draw[ann] (481,1254) -- (481,1208);
\node[atxt] at (464,1260) {Start};
\node[atxt] at (464,1275) {Exercise};
\draw[ann] (511,1204) -- (511,1156);
\node[atxt] at (496,1215) {Stop};
\node[atxt] at (496,1229) {Exercise};
\end{scope}
\end{tikzpicture}
\end{document}
